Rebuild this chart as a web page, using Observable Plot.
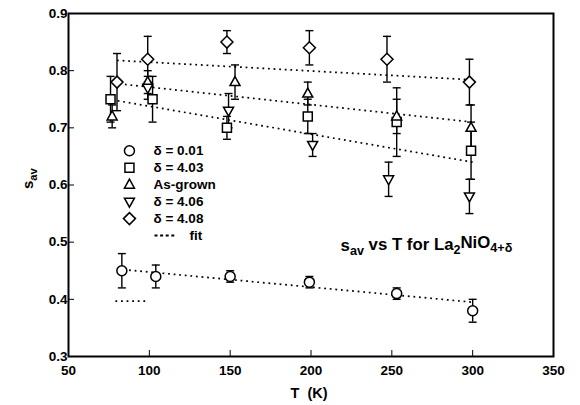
<!DOCTYPE html>
<html><head><meta charset="utf-8">
<script src="https://cdn.jsdelivr.net/npm/d3@7"></script>
<script src="https://cdn.jsdelivr.net/npm/@observablehq/plot@0.6"></script>
<style>
body{margin:0;background:#fff}
svg{display:block}
svg text{font-weight:bold}
</style>
</head><body><div id="chart"></div>
<script>
// ---------- data ----------
const seriesNames = ["δ = 0.01", "δ = 4.03", "As-grown", "δ = 4.06", "δ = 4.08"];

const T_d001 = [83, 104, 150, 199, 253, 300];
const s_d001 = [0.45, 0.44, 0.44, 0.43, 0.41, 0.38];
const e_d001 = [0.03, 0.02, 0.01, 0.01, 0.01, 0.02];

const T_d403 = [76, 102, 148, 198, 253, 299];
const s_d403 = [0.75, 0.75, 0.70, 0.72, 0.71, 0.66];
const e_d403 = [0.04, 0.04, 0.02, 0.03, 0.06, 0.05];

const T_grown = [77, 99, 153, 198, 253, 299];
const s_grown = [0.72, 0.78, 0.78, 0.76, 0.72, 0.70];
const e_grown = [0.02, 0.02, 0.03, 0.02, 0.03, 0.04];

const T_d406 = [99, 149, 201, 248, 298];
const s_d406 = [0.77, 0.73, 0.67, 0.61, 0.58];
const e_d406 = [0.02, 0.03, 0.02, 0.03, 0.03];

const T_d408 = [80, 99, 148, 199, 247, 298];
const s_d408 = [0.78, 0.82, 0.85, 0.84, 0.82, 0.78];
const e_d408 = [0.05, 0.04, 0.02, 0.03, 0.04, 0.04];

// fit lines (start/end)
const fitT0 = [80, 78, 77, 84];
const fitS0 = [0.818, 0.778, 0.749, 0.452];
const fitT1 = [300, 300, 300, 300];
const fitS1 = [0.784, 0.710, 0.640, 0.395];
// stray short dotted segment
const strayT = [79, 98];
const strayS = [0.397, 0.397];

const xTicks = [50, 100, 150, 200, 250, 300, 350];
const yTicks = [0.3, 0.4, 0.5, 0.6, 0.7, 0.8, 0.9];

const titleText = "s_{av} vs T for La_2NiO_{4+δ}";
const xLabel = "T  (K)";
const yLabel = "s_{av}";

// ---------- symbols ----------
const rad = s => Math.sqrt(s / Math.PI);
const symCircle = {draw(c, s){const r = rad(s); c.moveTo(r, 0); c.arc(0, 0, r, 0, 2 * Math.PI);}};
const symSquare = {draw(c, s){const h = rad(s) * 0.9; c.moveTo(-h, -h); c.lineTo(h, -h); c.lineTo(h, h); c.lineTo(-h, h); c.closePath();}};
const symUp = {draw(c, s){const r = rad(s); c.moveTo(0, -r * 1.1); c.lineTo(r, r * 0.7); c.lineTo(-r, r * 0.7); c.closePath();}};
const symDown = {draw(c, s){const r = rad(s); c.moveTo(0, r * 1.1); c.lineTo(r, -r * 0.7); c.lineTo(-r, -r * 0.7); c.closePath();}};
const symDiamond = {draw(c, s){const r = rad(s) * 1.2; c.moveTo(0, -r); c.lineTo(r, 0); c.lineTo(0, r); c.lineTo(-r, 0); c.closePath();}};
const symCap = {draw(c, s){const r = rad(s); c.moveTo(-r, 0); c.lineTo(r, 0);}};

const mk = (T, s, e) => T.map((t, i) => ({T: t, s: s[i], e: e[i]}));
const series = [
  {name: seriesNames[0], sym: symCircle, data: mk(T_d001, s_d001, e_d001)},
  {name: seriesNames[1], sym: symSquare, data: mk(T_d403, s_d403, e_d403)},
  {name: seriesNames[2], sym: symUp, data: mk(T_grown, s_grown, e_grown)},
  {name: seriesNames[3], sym: symDown, data: mk(T_d406, s_d406, e_d406)},
  {name: seriesNames[4], sym: symDiamond, data: mk(T_d408, s_d408, e_d408)}
];
const fits = fitT0.map((t, i) => ({T0: t, s0: fitS0[i], T1: fitT1[i], s1: fitS1[i]}));
const stray = [{T0: strayT[0], T1: strayT[1], s0: strayS[0], s1: strayS[1]}];

// legend layout (in data space)
const legSymT = 87.7, legTextT = 102.6, legTop = 0.660, legStep = 0.0297;
const legRows = series.map((d, i) => ({name: d.name, sym: d.sym, y: legTop - i * legStep}));
const fitRowY = legTop - 5 * legStep;

const FONT = "Liberation Sans, Arial, Helvetica, sans-serif";
const DOT = "1.8,3.8";

const marks = [
  Plot.axisX({ticks: xTicks, tickSize: -6, tickPadding: 15, label: null, tickFormat: d => String(d), fontSize: 13.5}),
  Plot.axisY({ticks: yTicks, tickSize: -6, tickPadding: 7, label: null, tickFormat: d => d.toFixed(1), fontSize: 13.5}),
];
for (const sr of series) {
  marks.push(Plot.ruleX(sr.data, {x: "T", y1: d => d.s - d.e, y2: d => d.s + d.e, stroke: "black", strokeWidth: 1.4}));
  marks.push(Plot.dot(sr.data, {x: "T", y: d => d.s + d.e, symbol: symCap, r: 4, stroke: "black", strokeWidth: 1.4}));
  marks.push(Plot.dot(sr.data, {x: "T", y: d => d.s - d.e, symbol: symCap, r: 4, stroke: "black", strokeWidth: 1.4}));
}
marks.push(Plot.link(fits, {x1: "T0", y1: "s0", x2: "T1", y2: "s1", stroke: "black", strokeWidth: 1.7, strokeDasharray: DOT}));
marks.push(Plot.link(stray, {x1: "T0", y1: "s0", x2: "T1", y2: "s1", stroke: "black", strokeWidth: 1.7, strokeDasharray: DOT}));
for (const sr of series) {
  marks.push(Plot.dot(sr.data, {x: "T", y: "s", symbol: sr.sym, r: 5, stroke: "black", fill: "white", strokeWidth: 1.5}));
}
// legend
for (const row of legRows) {
  marks.push(Plot.dot([row], {x: () => legSymT, y: "y", symbol: row.sym, r: 5, stroke: "black", fill: "white", strokeWidth: 1.5}));
}
marks.push(Plot.text(legRows, {x: () => legTextT, y: "y", text: "name", textAnchor: "start", fontSize: 13.5, fontFamily: FONT}));
marks.push(Plot.link([{}], {x1: () => 103.2, x2: () => 115.6, y1: () => fitRowY, y2: () => fitRowY, stroke: "black", strokeWidth: 2, strokeDasharray: "3,2.6"}));
marks.push(Plot.text(["fit"], {x: () => 124.9, y: () => fitRowY, text: d => d, textAnchor: "start", fontSize: 13.5, fontFamily: FONT}));
// title & labels
marks.push(Plot.text([titleText], {x: () => 218.3, y: () => 0.494, text: d => d, textAnchor: "start", fontSize: 16.8, fontFamily: FONT}));
marks.push(Plot.text([xLabel], {frameAnchor: "bottom", dy: 41, dx: -2, text: d => d, fontSize: 14.5, fontFamily: FONT}));
marks.push(Plot.text([yLabel], {frameAnchor: "left", dx: -40, dy: 4, rotate: -90, text: d => d, fontSize: 15, fontFamily: FONT}));
marks.push(Plot.frame({stroke: "black", strokeWidth: 2}));

const chart = Plot.plot({
  width: 580, height: 405,
  marginLeft: 68, marginRight: 27, marginTop: 13, marginBottom: 49,
  style: {fontFamily: FONT, fontSize: "13px", color: "black", background: "white"},
  x: {domain: [50, 350]},
  y: {domain: [0.3, 0.9]},
  marks
});

// subscripts: convert _x / _{...} into tspans
function applySub(svg) {
  d3.select(svg).selectAll("text").each(function () {
    const t = this.textContent;
    if (!t.includes("_")) return;
    const re = /_\{([^}]*)\}|_(\S)/g;
    const parts = [];
    let last = 0, m;
    while ((m = re.exec(t))) {
      if (m.index > last) parts.push({s: t.slice(last, m.index), sub: false});
      parts.push({s: m[1] !== undefined ? m[1] : m[2], sub: true});
      last = re.lastIndex;
    }
    if (last < t.length) parts.push({s: t.slice(last), sub: false});
    const el = d3.select(this);
    el.text(null);
    let shifted = false;
    for (const p of parts) {
      const ts = el.append("tspan").text(p.s);
      if (p.sub && !shifted) { ts.attr("dy", "0.35em").attr("font-size", "75%"); shifted = true; }
      else if (p.sub && shifted) { ts.attr("font-size", "75%"); }
      else if (!p.sub && shifted) { ts.attr("dy", "-0.35em"); shifted = false; }
    }
  });
}
applySub(chart);
document.getElementById("chart").appendChild(chart);
</script>
</body></html>
